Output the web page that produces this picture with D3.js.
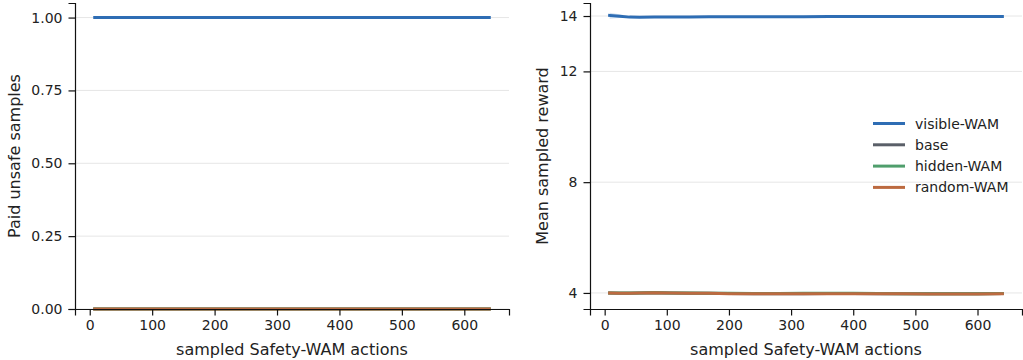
<!DOCTYPE html>
<html><head><meta charset="utf-8">
<script src="https://cdn.jsdelivr.net/npm/d3@7"></script>
<style>
body{margin:0;background:#fff;}
text{font-family:"DejaVu Sans",sans-serif;fill:#222;}
</style></head>
<body><svg id="c" width="1023" height="360"></svg>
<script>
// ---- data ----
const steps = [8, 24, 40, 56, 80, 104, 136, 168, 200, 240, 280, 320, 360, 400, 440, 480, 520, 560, 600, 640];
const seriesNames = ["visible-WAM", "base", "hidden-WAM", "random-WAM"];
const seriesColors = ["#2e6db4", "#5a5f68", "#4f9e6c", "#bc6a40"];
// left panel: paid unsafe samples
const unsafeVisible = [1,1,1,1,1,1,1,1,1,1,1,1,1,1,1,1,1,1,1,1];
const unsafeBase    = [0,0,0,0,0,0,0,0,0,0,0,0,0,0,0,0,0,0,0,0];
const unsafeHidden  = [0,0,0,0,0,0,0,0,0,0,0,0,0,0,0,0,0,0,0,0];
const unsafeRandom  = [0,0,0,0,0,0,0,0,0,0,0,0,0,0,0,0,0,0,0,0];
// right panel: mean sampled reward
const rewardVisible = [14.02, 13.99, 13.96, 13.955, 13.96, 13.965, 13.965, 13.97, 13.97, 13.975, 13.975, 13.975, 13.98, 13.98, 13.98, 13.985, 13.985, 13.985, 13.985, 13.985];
const rewardVisibleLo = [13.90, 13.93, 13.93, 13.93, 13.94, 13.95, 13.95, 13.955, 13.955, 13.96, 13.96, 13.96, 13.965, 13.965, 13.965, 13.97, 13.97, 13.97, 13.97, 13.97];
const rewardVisibleHi = [14.12, 14.06, 13.99, 13.975, 13.975, 13.98, 13.98, 13.985, 13.985, 13.99, 13.99, 13.99, 13.995, 13.995, 13.995, 14.0, 14.0, 14.0, 14.0, 14.0];
const rewardBase    = [4.00, 3.99, 3.99, 4.00, 4.01, 4.00, 3.99, 3.99, 3.98, 3.975, 3.975, 3.975, 3.98, 3.98, 3.975, 3.975, 3.97, 3.97, 3.97, 3.975];
const rewardHidden  = [4.00, 3.995, 3.995, 4.00, 4.015, 4.00, 3.995, 3.99, 3.985, 3.98, 3.98, 3.985, 3.985, 3.985, 3.98, 3.975, 3.975, 3.97, 3.97, 3.975];
const rewardRandom  = [4.00, 3.99, 3.99, 3.995, 4.005, 3.995, 3.99, 3.985, 3.975, 3.97, 3.97, 3.97, 3.975, 3.975, 3.97, 3.97, 3.965, 3.965, 3.965, 3.97];
const leftTicksY = [0, 0.25, 0.5, 0.75, 1.0];
const rightTicksY = [4, 8, 12, 14];
const ticksX = [0, 100, 200, 300, 400, 500, 600];

const svg = d3.select("#c");

function panel(opt){
  const g = svg.append("g");
  const x = d3.scaleLinear().domain([-23.6, 671.6]).range([opt.x0, opt.x1]);
  const y = d3.scaleLinear().domain(opt.ydom).range([309, 3]);
  // grid
  g.selectAll("line.grid").data(opt.yticks).join("line")
    .attr("x1", opt.x0).attr("x2", opt.x1)
    .attr("y1", d=>y(d)).attr("y2", d=>y(d))
    .attr("stroke", "#e6e6e6").attr("stroke-width", 1);
  // band
  if (opt.band) {
    const area = d3.area().x((d,i)=>x(steps[i])).y0((d,i)=>y(opt.band.lo[i])).y1((d,i)=>y(opt.band.hi[i]));
    g.append("path").datum(opt.band.lo).attr("d", area)
      .attr("fill", opt.band.color).attr("opacity", 0.2);
  }
  const line = d3.line().x((d,i)=>x(steps[i])).y(d=>y(d));
  opt.series.forEach((s,k)=>{
    g.append("path").datum(s).attr("d", line)
      .attr("fill","none").attr("stroke", seriesColors[k]).attr("stroke-width", 3)
      .attr("stroke-linecap","square").attr("stroke-linejoin","round");
  });
  // axes
  const ax = g.append("g").attr("transform", "translate(0,309)")
    .call(d3.axisBottom(x).tickValues(ticksX).tickFormat(d3.format("d")).tickSizeOuter(0).tickSize(6.5).tickPadding(5));
  const ay = g.append("g").attr("transform", `translate(${opt.x0},0)`)
    .call(d3.axisLeft(y).tickValues(opt.yticks).tickFormat(opt.yfmt).tickSizeOuter(0).tickSize(6.5).tickPadding(6));
  [ax, ay].forEach(a=>{
    a.select(".domain").attr("stroke","#111").attr("stroke-width",1.2);
    a.selectAll(".tick line").attr("stroke","#111").attr("stroke-width",1.2);
    a.selectAll(".tick text").style("font-family","DejaVu Sans").style("font-size","14px").attr("fill","#222");
  });
  g.append("text").attr("x", (opt.x0+opt.x1)/2).attr("y", 355)
    .attr("text-anchor","middle").style("font-size","16px").text("sampled Safety-WAM actions");
  g.append("text").attr("transform", `translate(${opt.ylabX},156) rotate(-90)`)
    .attr("text-anchor","middle").style("font-size","16px").text(opt.ylabel);
  return {g, x, y};
}

panel({x0:75, x1:509, ydom:[0,1.05], yticks:leftTicksY, yfmt:d3.format(".2f"),
  series:[unsafeVisible, unsafeBase, unsafeHidden, unsafeRandom],
  ylabel:"Paid unsafe samples", ylabX:20});

panel({x0:590, x1:1022, ydom:[3.42,14.47], yticks:rightTicksY, yfmt:d3.format("d"),
  series:[rewardVisible, rewardBase, rewardHidden, rewardRandom],
  band:{lo:rewardVisibleLo, hi:rewardVisibleHi, color:seriesColors[0]},
  ylabel:"Mean sampled reward", ylabX:548});

// legend
const lg = svg.append("g").attr("transform","translate(873,123.5)");
seriesNames.forEach((n,i)=>{
  const row = lg.append("g").attr("transform",`translate(0,${i*21.3})`);
  row.append("line").attr("x1",0).attr("x2",32).attr("y1",0).attr("y2",0)
    .attr("stroke",seriesColors[i]).attr("stroke-width",3);
  row.append("text").attr("x",42).attr("y",5).style("font-size","14px").text(n);
});
</script></body></html>
